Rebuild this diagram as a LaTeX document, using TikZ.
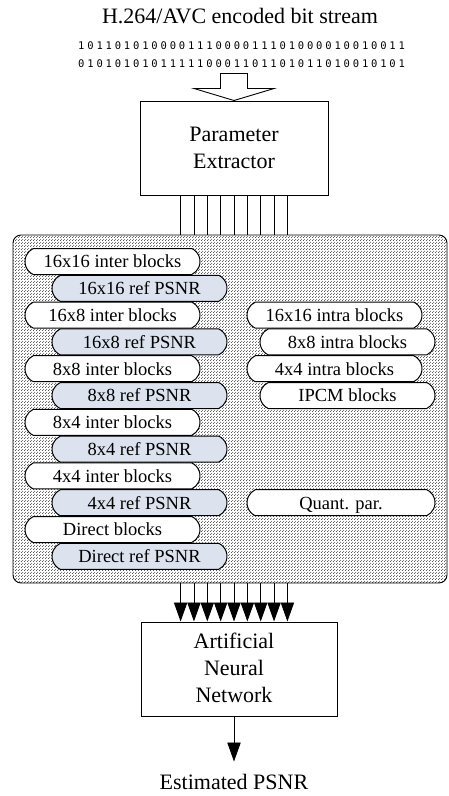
\documentclass[tikz,border=0pt]{standalone}
\usepackage{fontspec}
\setmainfont{Liberation Serif}
\newfontfamily\bitfont[LetterSpace=27]{DejaVu Sans Mono}
\usetikzlibrary{arrows.meta,patterns,shapes.misc}
\definecolor{refblue}{RGB}{220,227,238}
\definecolor{dotgray}{RGB}{30,30,30}
\pgfdeclarepatternformonly{refdots}{\pgfpointorigin}{\pgfqpoint{3pt}{3pt}}{\pgfqpoint{3pt}{3pt}}{%
  \pgfpathcircle{\pgfqpoint{0.75pt}{0.75pt}}{0.62pt}%
  \pgfpathcircle{\pgfqpoint{2.25pt}{2.25pt}}{0.62pt}%
  \pgfusepath{fill}}
\begin{document}
\begin{tikzpicture}[x=1pt,y=-1pt,
  big/.style={font=\fontsize{22}{26.8}\selectfont},
  blockbox/.style={draw, line width=1pt, minimum width=188pt, minimum height=94pt, inner sep=0pt, align=center, big},
  pill/.style={rounded rectangle, rounded rectangle arc length=130, draw, line width=1pt, minimum width=175pt, minimum height=26pt, inner sep=0pt, fill=white, font=\fontsize{18.5}{20}\selectfont, text height=12.6pt, text depth=0pt},
  refpill/.style={pill, fill=refblue},
  wire/.style={line width=0.9pt},
  feed/.style={line width=0.9pt, -{Triangle[length=19pt,width=13.3pt]}},
  bits/.style={anchor=base west, inner sep=0pt, font=\bitfont\fontsize{10.5}{12}\selectfont},
]
\useasboundingbox (0,0) rectangle (449,796);
\node[big, anchor=base, inner sep=0pt] (title) at (240,23) {H.264/AVC encoded bit stream};
\node[bits] (bits1) at (78,49) {101101010000111000011101000010010011};
\node[bits] (bits2) at (78,67) {010101010111110001101101011010010101};
\node[blockbox] (pe) at (234,148) {Parameter\\Extractor};
\draw[line width=0.9pt, fill=white] (pe.north) -- ++(-40,-12) -- ++(26.5,0) -- ++(0,-15) -- ++(27,0) -- ++(0,15) -- ++(26.5,0) -- cycle;
\node[draw, line width=0.9pt, rounded corners=8pt, minimum width=434pt, minimum height=348pt, inner sep=0pt, pattern=refdots, pattern color=dotgray] (params) at (230,409) {};
\foreach \k in {-4,...,4}
  \draw[wire] ([xshift={\k*13.35pt}]pe.south) -- ([xshift={\k*13.35pt}]pe.south |- params.north);
% left column
\node[pill] (i1) at (112.5,261.5) {16x16 inter blocks};
\node[refpill] (r1) at (139.5,288.3) {16x16 ref PSNR};
\node[pill] (i2) at (112.5,315.1) {16x8 inter blocks};
\node[refpill] (r2) at (139.5,341.9) {16x8 ref PSNR};
\node[pill] (i3) at (112.5,368.7) {8x8 inter blocks};
\node[refpill] (r3) at (139.5,395.5) {8x8 ref PSNR};
\node[pill] (i4) at (112.5,422.3) {8x4 inter blocks};
\node[refpill] (r4) at (139.5,449.1) {8x4 ref PSNR};
\node[pill] (i5) at (112.5,475.9) {4x4 inter blocks};
\node[refpill] (r5) at (139.5,502.7) {4x4 ref PSNR};
\node[pill] (i6) at (112.5,529.5) {Direct blocks};
\node[refpill] (r6) at (139.5,556.3) {Direct ref PSNR};
% right column
\node[pill] (a1) at (334.5,315.1) {16x16 intra blocks};
\node[pill] (a2) at (347.5,341.9) {8x8 intra blocks};
\node[pill] (a3) at (334.5,368.7) {4x4 intra blocks};
\node[pill] (a4) at (347.5,395.5) {IPCM blocks};
\node[pill, minimum width=188pt] (qp) at (341,502.7) {Quant. par.};
% ANN
\node[blockbox, minimum width=196pt] (ann) at (239,669) {};
\node[big, align=center, inner sep=0pt] (anntext) at (234,668) {Artificial\\Neural\\Network};
\foreach \k in {-4,...,4}
  \draw[feed] ([xshift={\k*13.35pt}]pe.south |- params.south) -- ([xshift={\k*13.35pt}]pe.south |- ann.north);
\node[big, anchor=base, inner sep=0pt] (est) at (234,789) {Estimated PSNR};
\draw[feed, shorten >=12pt] (pe.south |- ann.south) -- (est.north);
\end{tikzpicture}
\end{document}
